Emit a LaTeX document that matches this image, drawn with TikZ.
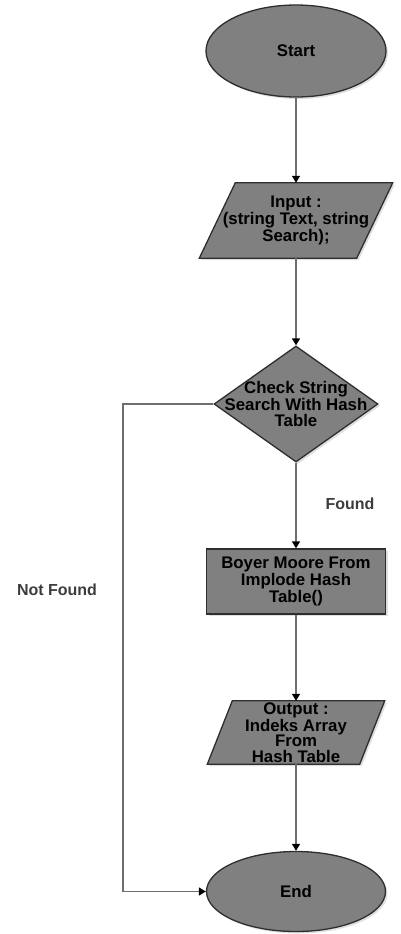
\documentclass[tikz,border=0pt]{standalone}
\usepackage{fontspec}
\setmainfont{Liberation Sans}
\usetikzlibrary{shapes.geometric,arrows.meta,shadows,backgrounds}
\definecolor{fillg}{HTML}{808080}
\definecolor{edgeg}{HTML}{2E2E2E}
\definecolor{lineg}{HTML}{6E6E6E}
\definecolor{labg}{HTML}{3C3C3C}
\begin{document}
\begin{tikzpicture}[x=1pt,y=-1pt,
  shp/.style={draw=edgeg,line width=1.3pt,fill=fillg,
    drop shadow={opacity=0.25,shadow xshift=2pt,shadow yshift=-2pt}},
  txt/.style={align=center,font=\fontsize{16.8}{15.5}\selectfont\bfseries,text=black,inner sep=0pt},
  term/.style={shp,ellipse,inner sep=0pt,txt},
  procbox/.style={shp,rectangle,inner sep=0pt,txt},
  decbox/.style={shp,diamond,inner sep=0pt},
  iobox/.style={rectangle,inner sep=0pt,txt},
  arr/.style={draw=lineg,line width=1.4pt,-{Triangle[width=8pt,length=7pt,color=black]}},
  lab/.style={font=\fontsize{16}{16}\selectfont\bfseries,text=labg}]
\useasboundingbox (0,0) rectangle (400,934);

\node[term,minimum width=180pt,minimum height=92pt] (start) at (296,51) {Start};

\node[iobox,minimum width=157pt,minimum height=75pt] (input) at (296,220.5)
  {Input :\\(string Text, string\\Search);};
\begin{scope}[on background layer]
\path[shp] ([xshift=18pt]input.north west) -- ([xshift=18pt]input.north east)
  -- ([xshift=-18pt]input.south east) -- ([xshift=-18pt]input.south west) -- cycle;
\end{scope}

\node[decbox,minimum width=164pt,minimum height=116pt] (check) at (296,404) {};
\node[txt] (checkt) at (check.center) {Check String\\Search With Hash\\Table};

\node[procbox,minimum width=179pt,minimum height=65pt] (boyer) at (296,581.5)
  {Boyer Moore From\\Implode Hash\\Table()};

\node[iobox,minimum width=152pt,minimum height=63pt] (output) at (296,732.5)
  {Output :\\Indeks Array\\From\\Hash Table};
\begin{scope}[on background layer]
\path[shp] ([xshift=12.5pt]output.north west) -- ([xshift=12.5pt]output.north east)
  -- ([xshift=-12.5pt]output.south east) -- ([xshift=-12.5pt]output.south west) -- cycle;
\end{scope}

\node[term,minimum width=179pt,minimum height=80pt] (end) at (296,891.5) {End};

\coordinate (lft) at (123,404);

\draw[arr] (start.south) -- (input.north);
\draw[arr] (input.south) -- (check.north);
\draw[arr] (check.south) -- (boyer.north);
\draw[arr] (boyer.south) -- (output.north);
\draw[arr] (output.south) -- (end.north);
\draw[arr] (check.west) -- (lft) |- (end.west);

\node[lab] (found) at (350,504) {Found};
\node[lab] (notfound) at (57,590) {Not Found};
\end{tikzpicture}
\end{document}
